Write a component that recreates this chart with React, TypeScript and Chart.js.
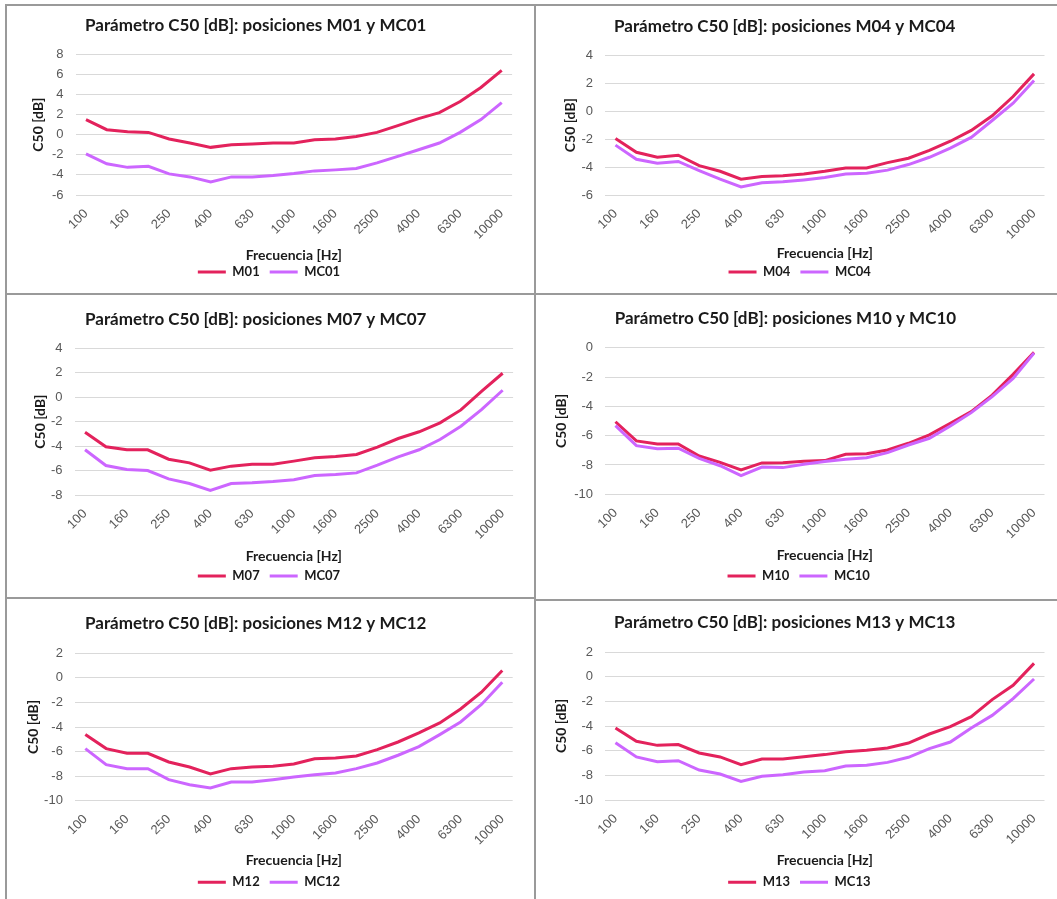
import React, { useEffect, useRef } from "react";
import { Chart, registerables } from "chart.js";

Chart.register(...registerables);

// ---------- data ----------
const FREQUENCIES = ["100", "125", "160", "200", "250", "315", "400", "500", "630", "800", "1000", "1250", "1600", "2000", "2500", "3150", "4000", "5000", "6300", "8000", "10000"];

const M01 = [1.49, 0.5, 0.3, 0.23, -0.43, -0.83, -1.26, -1.0, -0.93, -0.83, -0.83, -0.5, -0.43, -0.17, 0.23, 0.9, 1.6, 2.2, 3.3, 4.7, 6.4];
const MC01 = [-1.9, -2.9, -3.25, -3.15, -3.9, -4.2, -4.7, -4.2, -4.2, -4.07, -3.87, -3.6, -3.5, -3.37, -2.8, -2.15, -1.5, -0.83, 0.23, 1.5, 3.2];
const M04 = [-1.96, -2.94, -3.3, -3.15, -3.9, -4.3, -4.87, -4.68, -4.63, -4.5, -4.3, -4.06, -4.06, -3.68, -3.37, -2.8, -2.15, -1.38, -0.33, 1.05, 2.67];
const MC04 = [-2.43, -3.44, -3.72, -3.6, -4.25, -4.87, -5.42, -5.13, -5.06, -4.92, -4.75, -4.5, -4.44, -4.22, -3.82, -3.3, -2.65, -1.88, -0.67, 0.57, 2.2];
const M07 = [-2.86, -4.06, -4.3, -4.3, -5.07, -5.37, -5.97, -5.64, -5.48, -5.48, -5.23, -4.96, -4.85, -4.69, -4.09, -3.38, -2.83, -2.1, -1.04, 0.5, 1.96];
const MC07 = [-4.3, -5.59, -5.92, -6.0, -6.68, -7.06, -7.63, -7.06, -7.0, -6.9, -6.76, -6.4, -6.32, -6.19, -5.56, -4.88, -4.3, -3.46, -2.37, -1.0, 0.57];
const M10 = [-5.05, -6.36, -6.57, -6.57, -7.39, -7.82, -8.34, -7.86, -7.84, -7.75, -7.7, -7.27, -7.23, -6.98, -6.52, -5.95, -5.16, -4.36, -3.23, -1.82, -0.32];
const MC10 = [-5.32, -6.68, -6.9, -6.86, -7.55, -8.05, -8.73, -8.14, -8.18, -7.95, -7.77, -7.61, -7.5, -7.16, -6.64, -6.18, -5.34, -4.43, -3.34, -2.09, -0.36];
const M12 = [-4.62, -5.76, -6.14, -6.14, -6.85, -7.26, -7.83, -7.39, -7.26, -7.2, -7.01, -6.58, -6.52, -6.36, -5.84, -5.22, -4.48, -3.67, -2.53, -1.17, 0.6];
const MC12 = [-5.76, -7.07, -7.39, -7.39, -8.29, -8.7, -8.97, -8.48, -8.48, -8.29, -8.07, -7.88, -7.74, -7.39, -6.93, -6.3, -5.6, -4.62, -3.59, -2.17, -0.35];
const M13 = [-4.16, -5.24, -5.57, -5.51, -6.19, -6.51, -7.14, -6.68, -6.68, -6.49, -6.32, -6.08, -5.97, -5.78, -5.38, -4.65, -4.05, -3.24, -1.86, -0.7, 1.08];
const MC13 = [-5.35, -6.51, -6.89, -6.81, -7.57, -7.89, -8.49, -8.08, -7.95, -7.73, -7.62, -7.24, -7.19, -6.95, -6.54, -5.84, -5.3, -4.16, -3.14, -1.78, -0.19];

const Y_RANGE_01 = [-6, 8];
const Y_RANGE_04 = [-6, 4];
const Y_RANGE_07 = [-8, 4];
const Y_RANGE_10 = [-10, 0];
const Y_RANGE_12 = [-10, 2];
const Y_RANGE_13 = [-10, 2];

const POSITIONS = ["01", "04", "07", "10", "12", "13"];
const SERIES_M = [M01, M04, M07, M10, M12, M13];
const SERIES_MC = [MC01, MC04, MC07, MC10, MC12, MC13];
const Y_RANGES = [Y_RANGE_01, Y_RANGE_04, Y_RANGE_07, Y_RANGE_10, Y_RANGE_12, Y_RANGE_13];

// ---------- layout (absolute page pixels) ----------
const LAYOUT = [
  { box: { x: 5, y: 4, w: 531, h: 291 }, L: 75.6, R: 512.1, T: 54.3, B: 195, titleX: 85, titleY: 26, xTitleY: 255, legendY: 272, legendX: 269, yTitleX: 38.5 },
  { box: { x: 534, y: 4, w: 530, h: 291 }, L: 605, R: 1044.5, T: 55.3, B: 195, titleX: 614, titleY: 27, xTitleY: 253, legendY: 272, legendX: 799.7, yTitleX: 570 },
  { box: { x: 5, y: 293, w: 531, h: 306 }, L: 74.6, R: 513.1, T: 348.3, B: 495, titleX: 85, titleY: 320, xTitleY: 556.7, legendY: 576, legendX: 269, yTitleX: 40 },
  { box: { x: 534, y: 293, w: 530, h: 308 }, L: 605, R: 1044.5, T: 347.7, B: 494.3, titleX: 614.7, titleY: 318.3, xTitleY: 555.7, legendY: 576, legendX: 798.7, yTitleX: 561.3 },
  { box: { x: 5, y: 597, w: 531, h: 315 }, L: 74.9, R: 512.7, T: 653.3, B: 800.7, titleX: 85, titleY: 624, xTitleY: 860, legendY: 882.3, legendX: 269, yTitleX: 33.3 },
  { box: { x: 534, y: 599, w: 530, h: 313 }, L: 605, R: 1044.5, T: 652, B: 800, titleX: 614, titleY: 622.3, xTitleY: 860.3, legendY: 882.3, legendX: 799.3, yTitleX: 561.3 },
];

const COLOR_M = "#E3225C";
const COLOR_MC = "#CC66FF";
const BORDER = 2;
const TITLE_FONT = { family: "Lato", size: 17, weight: "bold" as const };
const AXIS_TITLE_FONT = { family: "Lato", size: 14, weight: "bold" as const };
const LEGEND_FONT = { family: "Lato", size: 13, weight: "bold" as const };
const TICK_FONT = { family: "Liberation Sans", size: 13 };

const boxShift = {
  id: "boxShift",
  afterLayout(chart: any, _args: any, opts: any) {
    if (!opts) return;
    const tb = chart.titleBlock;
    if (tb && opts.titleX != null) {
      const w = tb.right - tb.left;
      tb.left = opts.titleX;
      tb.right = opts.titleX + w;
    }
    const lg = chart.legend;
    if (lg && opts.legendX != null && lg.lineWidths) {
      const pad = lg.options.labels.padding;
      const rowW = lg.lineWidths[0] - pad;
      const currentStart = (lg.left + pad + lg.right - lg.lineWidths[0]) / 2;
      const desiredStart = opts.legendX - rowW / 2;
      const dx = desiredStart - currentStart;
      lg.left += dx;
      lg.right += dx;
    }
  },
};

function Panel({ idx }: { idx: number }) {
  const ref = useRef<HTMLCanvasElement | null>(null);
  const g = LAYOUT[idx];
  const cx = g.box.x + BORDER;
  const cy = g.box.y + BORDER;
  const cw = g.box.w - 2 * BORDER;
  const ch = g.box.h - 2 * BORDER;

  useEffect(() => {
    if (!ref.current) return;
    const pos = POSITIONS[idx];
    const [yMin, yMax] = Y_RANGES[idx];

    const tlh = TITLE_FONT.size * 1.2;
    const titlePadTop = g.titleY - cy - tlh / 2;
    const titlePadBottom = g.T - cy - titlePadTop - tlh;

    const legendPad = 10;
    const itemH = LEGEND_FONT.size;
    const legendBottom = g.legendY - itemH / 2 + itemH + 10;
    const legendTop = g.legendY - legendPad - itemH / 2;
    const layoutPadBottom = cy + ch - legendBottom;

    const alh = AXIS_TITLE_FONT.size * 1.2;
    const xAxisH = legendTop - g.B;
    const xTitlePadBottom = legendTop - g.xTitleY - alh / 2;
    const yAxisW = g.L - cx;
    const yTitlePadTop = g.yTitleX - cx - alh / 2;
    const layoutPadRight = cx + cw - g.R;

    const chart = new Chart(ref.current, {
      type: "line",
      data: {
        labels: FREQUENCIES,
        datasets: [
          {
            label: "M" + pos,
            data: SERIES_M[idx],
            borderColor: COLOR_M,
            backgroundColor: COLOR_M,
            borderWidth: 3,
            pointRadius: 0,
            tension: 0,
            order: 1,
          },
          {
            label: "MC" + pos,
            data: SERIES_MC[idx],
            borderColor: COLOR_MC,
            backgroundColor: COLOR_MC,
            borderWidth: 3,
            pointRadius: 0,
            tension: 0,
            order: 0,
          },
        ],
      },
      options: {
        responsive: false,
        animation: false,
        events: [],
        layout: { padding: { left: 0, top: 0, right: layoutPadRight, bottom: layoutPadBottom } },
        plugins: {
          tooltip: { enabled: false },
          title: {
            display: true,
            text: "Parámetro C50 [dB]: posiciones M" + pos + " y MC" + pos,
            align: "start",
            color: "#1a1a1a",
            font: TITLE_FONT,
            padding: { top: titlePadTop, bottom: titlePadBottom },
          },
          legend: {
            display: true,
            position: "bottom",
            align: "center",
            labels: {
              color: "#1a1a1a",
              font: LEGEND_FONT,
              boxWidth: 28,
              boxHeight: 3,
              padding: legendPad,
              sort: (a: any, b: any) => a.datasetIndex - b.datasetIndex,
              generateLabels: (c: any) =>
                (Chart as any).defaults.plugins.legend.labels
                  .generateLabels(c)
                  .map((l: any) => ({ ...l, lineWidth: 0 })),
            },
          },
          boxShift: { titleX: g.titleX - cx, legendX: g.legendX - cx },
        } as any,
        scales: {
          x: {
            offset: true,
            grid: { display: false, drawTicks: false },
            border: { display: false },
            ticks: {
              autoSkip: false,
              minRotation: 45,
              maxRotation: 45,
              padding: 11,
              color: "#595959",
              font: TICK_FONT,
              callback: function (this: any, v: any, i: number) {
                return i % 2 === 0 ? this.getLabelForValue(v) : "";
              },
            },
            title: {
              display: true,
              text: "Frecuencia [Hz]",
              color: "#1a1a1a",
              font: AXIS_TITLE_FONT,
              padding: { top: 0, bottom: xTitlePadBottom },
            },
            afterFit: (s: any) => {
              s.height = xAxisH;
            },
          },
          y: {
            min: yMin,
            max: yMax,
            grid: { color: "#D9D9D9", lineWidth: 1, drawTicks: false },
            border: { display: false },
            ticks: {
              stepSize: 2,
              padding: 12,
              color: "#595959",
              font: TICK_FONT,
            },
            title: {
              display: true,
              text: "C50 [dB]",
              color: "#1a1a1a",
              font: AXIS_TITLE_FONT,
              padding: { top: yTitlePadTop, bottom: 0 },
            },
            afterFit: (s: any) => {
              s.width = yAxisW;
            },
          },
        },
      },
      plugins: [boxShift as any],
    });
    return () => chart.destroy();
  }, [idx]);

  return (
    <div
      style={{
        position: "absolute",
        left: g.box.x,
        top: g.box.y,
        width: g.box.w,
        height: g.box.h,
        border: `${BORDER}px solid #9a9a9a`,
        boxSizing: "border-box",
        background: "#fff",
      }}
    >
      <canvas
        ref={ref}
        width={cw}
        height={ch}
        style={{ position: "absolute", left: 0, top: 0, width: cw, height: ch }}
      />
    </div>
  );
}

export default function App() {
  return (
    <div
      style={{
        position: "fixed",
        left: 0,
        top: 0,
        width: 1057,
        height: 899,
        overflow: "hidden",
        background: "#fff",
      }}
    >
      {POSITIONS.map((_, i) => (
        <Panel key={i} idx={i} />
      ))}
    </div>
  );
}
